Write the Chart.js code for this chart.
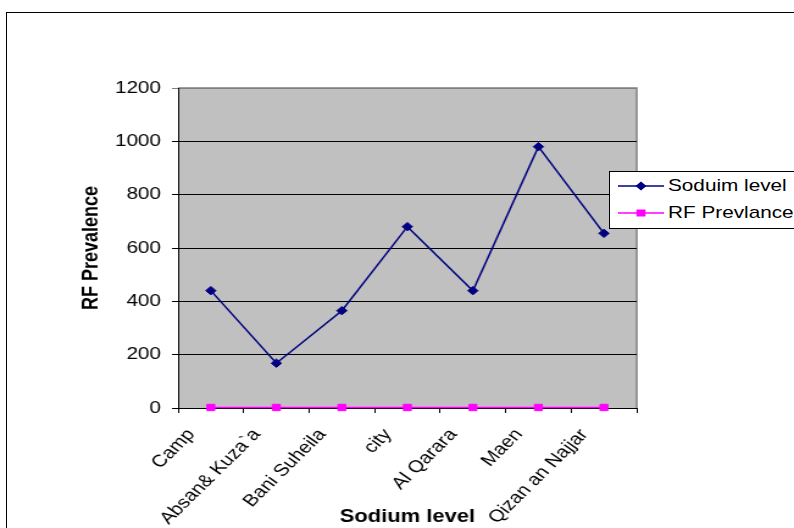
<!DOCTYPE html>
<html>
<head>
<meta charset="utf-8">
<script src="https://cdn.jsdelivr.net/npm/chart.js@4/dist/chart.umd.min.js"></script>
<style>
  html, body { margin: 0; padding: 0; background: #fff; overflow: hidden; }
  #wrap { position: relative; width: 794px; height: 528px; overflow: hidden; }
  #frame { position: absolute; left: 6px; top: 12px; width: 900px; height: 700px;
           border: 1.5px solid #000; box-sizing: border-box; }
  #c { position: absolute; left: 0; top: 0; }
  #legend { position: absolute; left: 609px; top: 171px; width: 220px; height: 58px;
            border: 1px solid #000; background: #fff; box-sizing: border-box; }
  .item { position: absolute; left: 0; width: 220px; height: 22px; }
  .item svg { position: absolute; left: 7px; top: 0; }
  .item span { position: absolute; left: 58px; top: 0; font: 17px "Liberation Sans", Arial, sans-serif;
               color: #000; white-space: nowrap; transform-origin: 0 50%; line-height: 20px; }
</style>
</head>
<body>
<div id="wrap">
  <div id="frame"></div>
  <canvas id="c" width="651" height="528" style="width:794px;height:528px"></canvas>
  <div id="legend"></div>
</div>
<script>
// Villages along the category axis
const categories = ['Camp', 'Absan& Kuza`a', 'Bani Suheila', 'city', 'Al Qarara', 'Maen', 'Qizan an Najjar'];
// Series values
const sodiumLevel = [440, 168, 365, 680, 440, 980, 655];
const rfPrevalence = [2, 2, 2, 2, 2, 2, 2];
const seriesNames = ['Soduim level', 'RF Prevlance'];
// Value axis ticks
const yTicks = [0, 200, 400, 600, 800, 1000, 1200];

const FONT = '"Liberation Sans", Arial, sans-serif';
const STRETCH = 794 / 651;   // canvas is drawn narrow and widened by CSS

const plotBackdrop = {
  id: 'plotBackdrop',
  beforeDraw(chart) {
    const { ctx, chartArea: { left, top, right, bottom } } = chart;
    ctx.save();
    ctx.fillStyle = '#c0c0c0';
    ctx.fillRect(left, top, right - left, bottom - top);
    ctx.strokeStyle = '#808080';
    ctx.lineWidth = 1.5;
    ctx.beginPath();
    ctx.moveTo(left, top);
    ctx.lineTo(right, top);
    ctx.lineTo(right, bottom);
    ctx.stroke();
    ctx.restore();
  }
};

const chart = new Chart(document.getElementById('c'), {
  type: 'line',
  data: {
    labels: categories,
    datasets: [
      {
        label: seriesNames[0],
        data: sodiumLevel,
        borderColor: '#000080',
        backgroundColor: '#000080',
        borderWidth: 1.5,
        pointStyle: 'rectRot',
        pointRadius: 4.2,
        pointBorderWidth: 1,
        pointBorderColor: '#000080',
        pointBackgroundColor: '#000080',
        tension: 0,
        clip: false
      },
      {
        label: seriesNames[1],
        data: rfPrevalence,
        borderColor: '#ff00ff',
        backgroundColor: '#ff00ff',
        borderWidth: 1.5,
        pointStyle: 'rect',
        pointRadius: 4.5,
        pointBorderWidth: 1,
        pointBorderColor: '#ff00ff',
        pointBackgroundColor: '#ff00ff',
        tension: 0,
        clip: false
      }
    ]
  },
  options: {
    responsive: false,
    animation: false,
    devicePixelRatio: 1,
    layout: { padding: { left: 64, right: 129, top: 88, bottom: 0 } },
    plugins: {
      legend: { display: false },
      tooltip: { enabled: false }
    },
    scales: {
      x: {
        type: 'category',
        offset: true,
        afterFit(scale) { scale.height = 120; },
        grid: { offset: true, drawOnChartArea: false, drawTicks: true, tickLength: 5, color: '#000', lineWidth: 1 },
        border: { display: true, color: '#000', width: 1 },
        ticks: {
          color: '#000',
          font: { family: FONT, size: 17 },
          minRotation: 50, maxRotation: 50,
          autoSkip: false,
          padding: 12,
          labelOffset: -16
        },
        title: {
          display: true,
          text: 'Sodium level',
          color: '#000',
          font: { family: FONT, size: 18, weight: 'bold' },
          padding: { top: 0, bottom: 0 }
        }
      },
      y: {
        min: 0, max: 1200,
        afterFit(scale) { scale.width = 82; },
        afterBuildTicks(scale) { scale.ticks = yTicks.map(v => ({ value: v })); },
        grid: {
          drawTicks: true, tickLength: 5, lineWidth: 1,
          color: (c) => (c.tick && c.tick.value === 1200 ? '#808080' : '#000')
        },
        border: { display: true, color: '#000', width: 1 },
        ticks: {
          color: '#000',
          font: { family: FONT, size: 17 },
          padding: 9,
          callback: (v) => String(v)
        },
        title: {
          display: true,
          text: 'RF Prevalence',
          color: '#000',
          font: { family: FONT, size: 18, weight: 'bold' },
          padding: { top: 0, bottom: 0 }
        }
      }
    }
  },
  plugins: [plotBackdrop]
});

// Legend built from the dataset styles
(function buildLegend() {
  const legend = document.getElementById('legend');
  const rows = [4, 31];
  chart.data.datasets.forEach((ds, i) => {
    const item = document.createElement('div');
    item.className = 'item';
    item.style.top = rows[i] + 'px';
    const col = ds.borderColor;
    const marker = ds.pointStyle === 'rectRot'
      ? `<polygon points="24,5.5 29.5,10 24,14.5 18.5,10" fill="${col}"/>`
      : `<rect x="19.5" y="6.5" width="9" height="7" fill="${col}"/>`;
    item.innerHTML =
      `<svg width="48" height="20"><line x1="1" y1="10" x2="47" y2="10" stroke="${col}" stroke-width="1.5"/>${marker}</svg>` +
      `<span style="transform: scaleX(${STRETCH})">${ds.label}</span>`;
    legend.appendChild(item);
  });
})();
</script>
</body>
</html>
